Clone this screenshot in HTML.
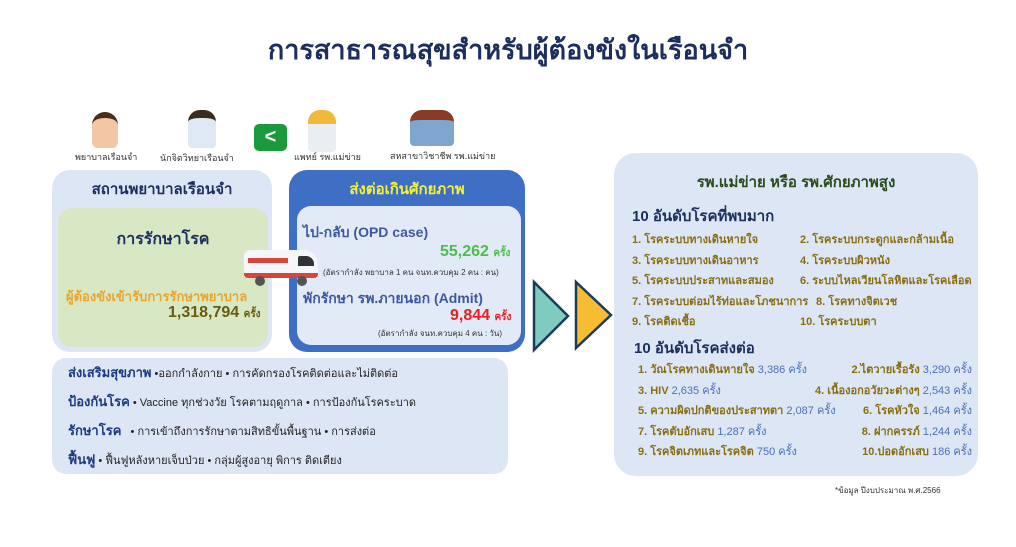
<!DOCTYPE html>
<html><head><meta charset="utf-8"><style>
*{margin:0;padding:0;box-sizing:border-box}
body{width:1016px;height:547px;background:#fff;position:relative;overflow:hidden;font-family:"Liberation Sans","Noto Sans CJK SC",sans-serif}
.a{position:absolute;white-space:nowrap}
.box{position:absolute;border-radius:18px}
.b{font-weight:bold}
.gold{color:#8a6d12;font-weight:bold}
.blu{color:#4a6fb8}
</style></head><body>
<div class="a b" style="left:0;width:1016px;text-align:center;top:28px;font-size:27px;color:#1c2e5e">การสาธารณสุขสำหรับผู้ต้องขังในเรือนจำ</div>

<!-- icons -->
<div class="a" style="left:92px;top:112px;width:26px;height:36px;border-radius:13px 13px 6px 6px;background:#f3c7a5;border-top:6px solid #4a2d1c"></div>
<div class="a" style="left:75px;top:150px;font-size:9px;color:#333">พยาบาลเรือนจำ</div>
<div class="a" style="left:188px;top:110px;width:28px;height:38px;border-radius:12px 12px 4px 4px;background:#dfe9f5;border-top:8px solid #3b2b1e"></div>
<div class="a" style="left:160px;top:151px;font-size:9px;color:#333">นักจิตวิทยาเรือนจำ</div>
<div class="a" style="left:254px;top:124px;width:33px;height:27px;border-radius:5px;background:#1a9a3c;color:#fff;font-size:20px;font-weight:bold;text-align:center;line-height:27px">&lt;</div>
<div class="a" style="left:308px;top:110px;width:28px;height:42px;border-radius:12px 12px 4px 4px;background:#e9eef3;border-top:14px solid #f0b93a"></div>
<div class="a" style="left:294px;top:150px;font-size:9px;color:#333">แพทย์ รพ.แม่ข่าย</div>
<div class="a" style="left:410px;top:110px;width:44px;height:36px;border-radius:12px 12px 4px 4px;background:#7fa6cf;border-top:10px solid #8a3b25"></div>
<div class="a" style="left:390px;top:149px;font-size:9px;color:#333">สหสาขาวิชาชีพ รพ.แม่ข่าย</div>

<!-- left box -->
<div class="box" style="left:52px;top:170px;width:220px;height:182px;background:#dde6f4"></div>
<div class="a b" style="left:52px;width:220px;text-align:center;top:177px;font-size:15px;color:#1c2e5e">สถานพยาบาลเรือนจำ</div>
<div class="box" style="left:58px;top:208px;width:210px;height:139px;background:#d8e8c4;border-radius:14px"></div>
<div class="a b" style="left:58px;width:210px;text-align:center;top:227px;font-size:16px;color:#1c2e5e">การรักษาโรค</div>
<div class="a b" style="left:66px;top:286px;font-size:13px;color:#e8a531">ผู้ต้องขังเข้ารับการรักษาพยาบาล</div>
<div class="a b" style="left:168px;top:304px;font-size:16px;color:#6b5a10">1,318,794 <span style="font-size:10px">ครั้ง</span></div>

<!-- blue box -->
<div class="box" style="left:289px;top:170px;width:236px;height:182px;background:#3f6fc4"></div>
<div class="a b" style="left:289px;width:236px;text-align:center;top:177px;font-size:15px;color:#f2f23a">ส่งต่อเกินศักยภาพ</div>
<div class="box" style="left:297px;top:206px;width:224px;height:139px;background:#e3eaf7;border-radius:14px"></div>
<div class="a b" style="left:303px;top:222px;font-size:14px;color:#3a5aa0">ไป-กลับ (OPD case)</div>
<div class="a b" style="left:440px;top:243px;font-size:16px;color:#4bbf4b">55,262 <span style="font-size:10px">ครั้ง</span></div>
<div class="a" style="left:323px;top:266px;font-size:8px;color:#333">(อัตรากำลัง พยาบาล 1 คน จนท.ควบคุม 2 คน : คน)</div>
<div class="a b" style="left:303px;top:288px;font-size:14px;color:#3a5aa0">พักรักษา รพ.ภายนอก (Admit)</div>
<div class="a b" style="left:450px;top:307px;font-size:16px;color:#e82020">9,844 <span style="font-size:10px">ครั้ง</span></div>
<div class="a" style="left:378px;top:327px;font-size:8px;color:#333">(อัตรากำลัง จนท.ควบคุม 4 คน : วัน)</div>

<!-- ambulance -->
<div class="a" style="left:244px;top:250px;width:74px;height:28px;background:#f4f6fa;border-radius:6px 14px 4px 4px;border-bottom:5px solid #d7463c"></div>
<div class="a" style="left:248px;top:258px;width:40px;height:5px;background:#d7463c"></div>
<div class="a" style="left:298px;top:256px;width:16px;height:10px;background:#333;border-radius:2px 8px 0 0"></div>
<div class="a" style="left:255px;top:276px;width:10px;height:10px;border-radius:50%;background:#555"></div>
<div class="a" style="left:297px;top:276px;width:10px;height:10px;border-radius:50%;background:#555"></div>

<!-- bottom box -->
<div class="box" style="left:52px;top:358px;width:456px;height:116px;background:#dde6f4;border-radius:14px"></div>
<div class="a" style="left:68px;top:359px;font-size:11px;color:#222;line-height:28px">
<b style="font-size:13px;color:#1c3a80">ส่งเสริมสุขภาพ</b> •ออกกำลังกาย • การคัดกรองโรคติดต่อและไม่ติดต่อ<br>
<b style="font-size:13px;color:#1c3a80">ป้องกันโรค</b> • Vaccine ทุกช่วงวัย โรคตามฤดูกาล • การป้องกันโรคระบาด<br>
<b style="font-size:13px;color:#1c3a80">รักษาโรค</b> &nbsp; • การเข้าถึงการรักษาตามสิทธิขั้นพื้นฐาน • การส่งต่อ<br>
<b style="font-size:13px;color:#1c3a80">ฟื้นฟู</b> • ฟื้นฟูหลังหายเจ็บป่วย • กลุ่มผู้สูงอายุ พิการ ติดเตียง</div>

<!-- arrows -->
<svg class="a" style="left:530px;top:278px" width="90" height="76">
<polygon points="4,4 38,38 4,72" fill="#7fcbc0" stroke="#1c3a5a" stroke-width="2.5"/>
<polygon points="46,4 81,37 46,70" fill="#f7bd32" stroke="#1c3a5a" stroke-width="2.5"/>
</svg>

<!-- right box -->
<div class="box" style="left:614px;top:153px;width:364px;height:323px;background:#dde6f4;border-radius:22px"></div>
<div class="a b" style="left:614px;width:364px;text-align:center;top:170px;font-size:15px;color:#2b4a1c">รพ.แม่ข่าย หรือ รพ.ศักยภาพสูง</div>
<div class="a b" style="left:632px;top:204px;font-size:15px;color:#1c2e5e">10 อันดับโรคที่พบมาก</div>
<div class="a gold" style="left:632px;top:230px;font-size:11px;line-height:20.5px">1. โรคระบบทางเดินหายใจ<br>3. โรคระบบทางเดินอาหาร<br>5. โรคระบบประสาทและสมอง<br>7. โรคระบบต่อมไร้ท่อและโภชนาการ<br>9. โรคติดเชื้อ</div>
<div class="a gold" style="left:800px;top:230px;font-size:11px;line-height:20.5px">2. โรคระบบกระดูกและกล้ามเนื้อ<br>4. โรคระบบผิวหนัง<br>6. ระบบไหลเวียนโลหิตและโรคเลือด<br><span style="margin-left:16px">8. โรคทางจิตเวช</span><br>10. โรคระบบตา</div>
<div class="a b" style="left:634px;top:336px;font-size:15px;color:#1c2e5e">10 อันดับโรคส่งต่อ</div>
<div class="a gold" style="left:638px;top:360px;font-size:11px;line-height:20.5px">1. วัณโรคทางเดินหายใจ <span class="blu" style="font-weight:normal">3,386 ครั้ง</span><br>3. HIV <span class="blu" style="font-weight:normal">2,635 ครั้ง</span><br>5. ความผิดปกติของประสาทตา <span class="blu" style="font-weight:normal">2,087 ครั้ง</span><br>7. โรคตับอักเสบ <span class="blu" style="font-weight:normal">1,287 ครั้ง</span><br>9. โรคจิตเภทและโรคจิต <span class="blu" style="font-weight:normal">750 ครั้ง</span></div>
<div class="a gold" style="right:44px;top:360px;font-size:11px;line-height:20.5px;text-align:right">2.ไตวายเรื้อรัง <span class="blu" style="font-weight:normal">3,290 ครั้ง</span><br>4. เนื้องอกอวัยวะต่างๆ <span class="blu" style="font-weight:normal">2,543 ครั้ง</span><br>6. โรคหัวใจ <span class="blu" style="font-weight:normal">1,464 ครั้ง</span><br>8. ฝากครรภ์ <span class="blu" style="font-weight:normal">1,244 ครั้ง</span><br>10.ปอดอักเสบ <span class="blu" style="font-weight:normal">186 ครั้ง</span></div>
<div class="a" style="left:835px;top:484px;font-size:8px;color:#333">*ข้อมูล ปีงบประมาณ พ.ศ.2566</div>
</body></html>
